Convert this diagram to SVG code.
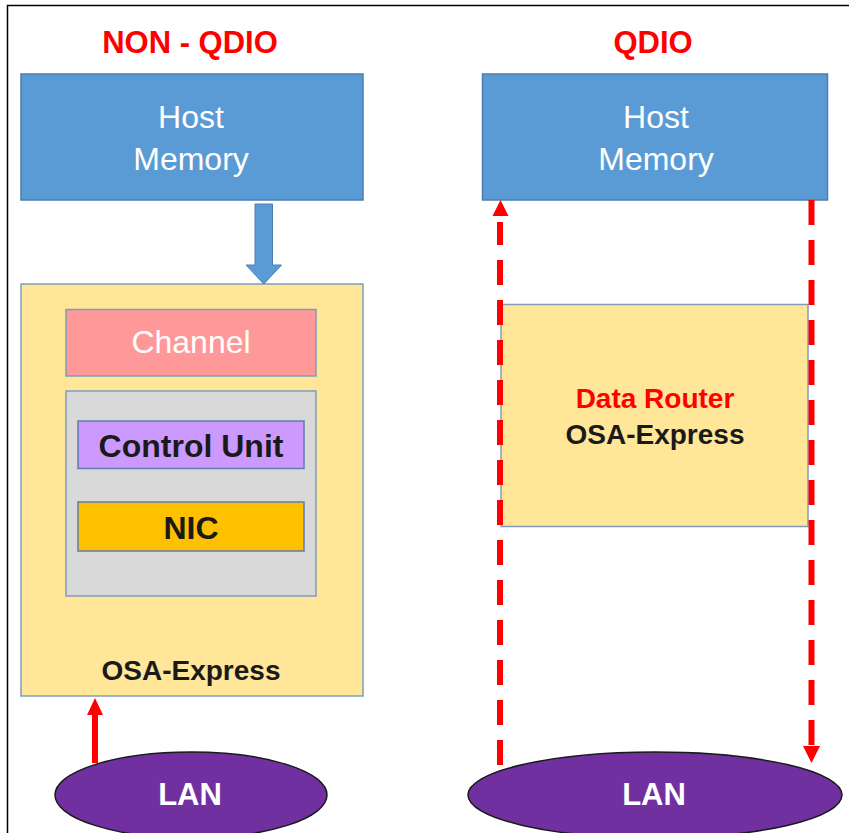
<svg xmlns="http://www.w3.org/2000/svg" width="849" height="833" viewBox="0 0 849 833">
<style>
  .t{font-family:"Liberation Sans",Arial,sans-serif;text-anchor:middle}
  .title{font-size:31px;font-weight:bold;fill:#FF0000}
  .host{fill:#5B9BD5;stroke:#4A7EB0;stroke-width:1.5}
  .hostt{font-size:32px;fill:#FFFFFF}
  .osa{fill:#FFE699;stroke:#7F9DB9;stroke-width:1.5}
  .bold{font-weight:bold;fill:#1A1A1A}
  .lan{fill:#7030A0;stroke:#1A1A1A;stroke-width:1.5}
  .lant{font-size:31px;font-weight:bold;fill:#FFFFFF}
  .dash{stroke:#FF0000;stroke-width:6;fill:none;stroke-dasharray:25 15}
</style>
<rect x="0" y="0" width="849" height="833" fill="#FFFFFF"/>
<path d="M7.5 833 V5.5 H849" fill="none" stroke="#000000" stroke-width="1.5"/>

<g id="title-nonqdio"><text class="t title" x="190" y="53">NON - QDIO</text></g>
<g id="title-qdio"><text class="t title" x="653" y="53">QDIO</text></g>

<g id="host-left">
  <rect class="host" x="21" y="74" width="342" height="126"/>
  <text class="t hostt" x="191" y="128">Host</text>
  <text class="t hostt" x="191" y="170">Memory</text>
</g>

<g id="osa-left">
  <rect class="osa" x="21" y="284" width="342" height="412"/>
  <text class="t bold" x="191" y="680" font-size="28">OSA-Express</text>
</g>

<g id="channel">
  <rect x="66" y="309.5" width="250" height="66.5" fill="#FF9999" stroke="#7F9DB9" stroke-width="1.5"/>
  <text class="t" x="191" y="353" font-size="32" fill="#FFFFFF">Channel</text>
</g>

<g id="cu-group">
  <rect x="66" y="391" width="250" height="205" fill="#D9D9D9" stroke="#7F9DB9" stroke-width="1.5"/>
</g>

<g id="control-unit">
  <rect x="78" y="421" width="226" height="47.5" fill="#CC99FF" stroke="#5F7FA8" stroke-width="1.5"/>
  <text class="t bold" x="191" y="456.5" font-size="32">Control Unit</text>
</g>

<g id="nic">
  <rect x="78" y="502" width="226" height="49" fill="#FFC000" stroke="#5F7FA8" stroke-width="1.5"/>
  <text class="t bold" x="191" y="539" font-size="32">NIC</text>
</g>

<g id="lan-left">
  <ellipse class="lan" cx="191" cy="795" rx="136" ry="43"/>
  <text class="t lant" x="190" y="805">LAN</text>
</g>

<g id="host-right">
  <rect class="host" x="482.5" y="74" width="345" height="126"/>
  <text class="t hostt" x="656" y="128">Host</text>
  <text class="t hostt" x="656" y="170">Memory</text>
</g>

<g id="osa-right">
  <rect class="osa" x="501" y="304.5" width="307" height="222"/>
  <text class="t" x="655" y="407.5" font-size="28" font-weight="bold" fill="#FF0000">Data Router</text>
  <text class="t bold" x="655" y="444" font-size="28">OSA-Express</text>
</g>

<g id="lan-right">
  <ellipse class="lan" cx="655" cy="795" rx="187" ry="43"/>
  <text class="t lant" x="654" y="805">LAN</text>
</g>

<g id="connectors">
  <!-- blue block arrow host -> osa -->
  <path d="M255 204 H272.5 V265 H281.5 L263.8 284 L246 265 H255 Z" fill="#5B9BD5" stroke="#4A7EB0" stroke-width="1"/>
  <!-- red arrow LAN -> OSA left -->
  <path d="M95 763 V712" stroke="#FF0000" stroke-width="6" fill="none"/>
  <path d="M87 715 L95 698 L103 715 Z" fill="#FF0000"/>
  <!-- dashed up arrow right side left line -->
  <path class="dash" d="M500 765 V222"/>
  <path d="M492.5 216 L500.5 200 L508.5 216 Z" fill="#FF0000"/>
  <!-- dashed down arrow -->
  <path class="dash" d="M811.5 200 V745"/>
  <path d="M803 746 L811.5 763 L820 746 Z" fill="#FF0000"/>
</g>
</svg>
